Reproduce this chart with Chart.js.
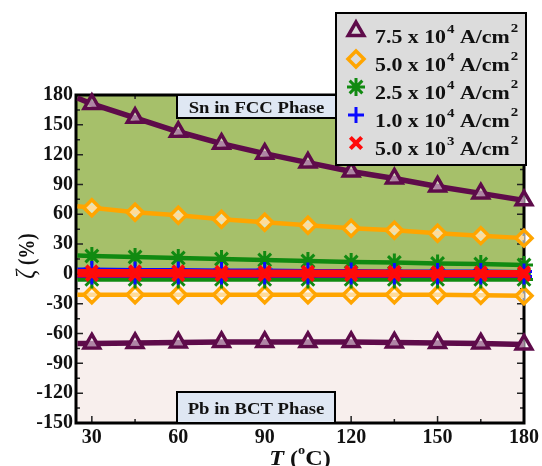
<!DOCTYPE html>
<html>
<head>
<meta charset="utf-8">
<script src="https://cdn.jsdelivr.net/npm/chart.js@4.4.1/dist/chart.umd.min.js"></script>
<style>
  body { margin: 0; background: #fff; }
  #wrap { width: 542px; height: 466px; }
</style>
</head>
<body>
<div id="wrap"><canvas id="myChart" width="542" height="466"></canvas></div>
<script>
// temperatures (°C); the first point only carries the line to the left frame
const temps = [25, 30, 45, 60, 75, 90, 105, 120, 135, 150, 165, 180];

// zeta (%) upper branch = Sn in FCC, lower branch = Pb in BCT
const sn75 = [177, 171, 157, 143, 131, 121, 112, 103, 96, 88, 81, 74];
const pb75 = [-70, -70, -69.5, -69, -68.5, -68.5, -68.5, -68.5, -69, -69.5, -70, -71];
const sn50 = [68, 66.5, 62, 59, 55, 52, 49, 46, 44, 41, 38.5, 36];
const pb50 = [-21, -21, -21, -21, -21, -21, -21, -21, -21, -21, -21.5, -22];
const sn25 = [18.5, 18, 17, 16, 15, 14, 13, 12, 11.5, 10.5, 10, 9];
const pb25 = [-5.5, -5.5, -5.5, -5.5, -5.5, -5.5, -5.5, -5.5, -5.5, -5.5, -5.5, -5.5];
const sn10 = [5, 5, 4.5, 4.5, 4, 4, 3.5, 3.5, 3, 3, 3, 2.5];
const pb10 = [-2.5, -2.5, -2.5, -2.5, -2.5, -2.5, -2.5, -2.5, -2.5, -2.5, -2.5, -2.5];
const sn05 = [2.5, 2.5, 2.5, 2.5, 2, 2, 2, 2, 2, 1.5, 1.5, 1.5];
const pb05 = [-1, -1, -1, -1, -1, -1, -1, -1, -1, -1, -1, -1];

const legendBase = ['7.5 x 10', '5.0 x 10', '2.5 x 10', '1.0 x 10', '5.0 x 10'];
const legendExp = ['4', '4', '4', '4', '3'];
const xTicks = [30, 60, 90, 120, 150, 180];
const yTicks = [-150, -120, -90, -60, -30, 0, 30, 60, 90, 120, 150, 180];
const phaseSplit = -6;

const styles = [
    { color: '#5e0b4a', point: 'triangle', r: 9, bw: 3.5, lw: 5.5, fill: 'rgba(255,255,255,0.5)' },
    { color: '#ffa500', point: 'rectRot', r: 8, bw: 3.5, lw: 4.5, fill: 'rgba(255,255,255,0.6)' },
    { color: '#118a11', point: 'star', r: 9, bw: 3, lw: 4.5, fill: '#118a11' },
    { color: '#0a0aff', point: 'cross', r: 8, bw: 3, lw: 3, fill: '#0a0aff' },
    { color: '#ff0a0a', point: 'crossRot', r: 8, bw: 4, lw: 5, fill: '#ff0a0a' }
];

function series(values, s, order) {
    return {
        data: values.map((v, i) => ({ x: temps[i], y: v })),
        borderColor: s.color,
        backgroundColor: s.fill,
        pointBackgroundColor: s.fill,
        pointBorderColor: s.color,
        pointStyle: s.point,
        pointRadius: ctx => ctx.dataIndex === 0 ? 0 : s.r,
        pointBorderWidth: s.bw,
        borderWidth: s.lw,
        tension: 0,
        clip: false,
        order: order
    };
}

function stretchText(ctx, txt, x, y, sx) {
    ctx.save();
    ctx.translate(x, y);
    ctx.scale(sx, 1);
    ctx.fillText(txt, 0, 0);
    ctx.restore();
    return ctx.measureText(txt).width * sx;
}

const serif = '"Liberation Serif", "Times New Roman", serif';

const decorations = {
    id: 'decorations',
    beforeDatasetsDraw(chart) {
        const ctx = chart.ctx, a = chart.chartArea, xs = chart.scales.x, ys = chart.scales.y;
        const split = ys.getPixelForValue(phaseSplit);
        ctx.save();
        ctx.fillStyle = '#a6c06a';
        ctx.fillRect(a.left, a.top, a.width, split - a.top);
        ctx.fillStyle = '#f8efed';
        ctx.fillRect(a.left, split, a.width, a.bottom - split);

        // inward ticks on all four sides
        ctx.strokeStyle = '#222';
        ctx.lineWidth = 1.5;
        ctx.beginPath();
        for (let i = 0; i < yTicks.length; i++) {
            const vals = [yTicks[i]];
            if (i < yTicks.length - 1) vals.push((yTicks[i] + yTicks[i + 1]) / 2);
            vals.forEach((v, k) => {
                const py = ys.getPixelForValue(v), len = k === 0 ? 7 : 4;
                ctx.moveTo(a.left, py); ctx.lineTo(a.left + len, py);
                ctx.moveTo(a.right, py); ctx.lineTo(a.right - len, py);
            });
        }
        for (let i = 0; i < xTicks.length; i++) {
            const vals = [xTicks[i], xTicks[i] - 15];
            vals.forEach((v, k) => {
                const px = xs.getPixelForValue(v), len = k === 0 ? 7 : 4;
                ctx.moveTo(px, a.bottom); ctx.lineTo(px, a.bottom - len);
                ctx.moveTo(px, a.top); ctx.lineTo(px, a.top + len);
            });
        }
        ctx.stroke();

        ctx.strokeStyle = '#000';
        ctx.lineWidth = 3;
        ctx.strokeRect(a.left, a.top, a.width, a.height);
        ctx.restore();
    },
    afterDatasetsDraw(chart) {
        const ctx = chart.ctx, a = chart.chartArea;
        ctx.save();

        // phase labels
        const boxes = [
            { text: 'Sn in FCC Phase', x: 177, y: a.top, w: 159, h: 23 },
            { text: 'Pb in BCT Phase', x: 177, y: 392, w: 158, h: a.bottom - 392 }
        ];
        boxes.forEach(b => {
            ctx.fillStyle = '#dfe7f3';
            ctx.fillRect(b.x, b.y, b.w, b.h);
            ctx.strokeStyle = '#000';
            ctx.lineWidth = 2;
            ctx.strokeRect(b.x, b.y, b.w, b.h);
            ctx.fillStyle = '#111';
            ctx.font = 'bold 17px ' + serif;
            ctx.textAlign = 'center';
            ctx.textBaseline = 'alphabetic';
            stretchText(ctx, b.text, b.x + b.w / 2, b.y + b.h / 2 + 6, 1.1);
        });

        // legend
        ctx.fillStyle = '#dcdcdc';
        ctx.fillRect(336, 13, 190, 152);
        ctx.strokeStyle = '#000';
        ctx.lineWidth = 2;
        ctx.strokeRect(336, 13, 190, 152);
        ctx.textAlign = 'left';
        for (let i = 0; i < legendBase.length; i++) {
            const s = styles[i];
            const cy = 31 + 28 * i;
            ctx.fillStyle = s.point === 'triangle' || s.point === 'rectRot' ? '#dcdcdc' : s.color;
            ctx.strokeStyle = s.color;
            ctx.lineWidth = s.bw;
            Chart.helpers.drawPoint(ctx, { pointStyle: s.point, radius: s.r, borderWidth: s.bw, rotation: 0 }, 356, cy);
            ctx.fillStyle = '#111';
            const base = cy + 12;
            let x = 375;
            ctx.font = 'bold 19px ' + serif;
            x += stretchText(ctx, legendBase[i], x, base, 1.15);
            ctx.font = 'bold 13px ' + serif;
            x += stretchText(ctx, legendExp[i], x + 1, base - 10, 1.15) + 1;
            ctx.font = 'bold 19px ' + serif;
            x += stretchText(ctx, ' A/cm', x, base, 1.15);
            ctx.font = 'bold 13px ' + serif;
            stretchText(ctx, '2', x + 1, base - 11, 1.15);
        }

        // x axis title: T (°C)
        ctx.fillStyle = '#111';
        const parts = [
            { t: 'T', f: 'italic bold 22px ' + serif, dy: 0 },
            { t: ' (', f: 'bold 22px ' + serif, dy: 0 },
            { t: 'o', f: 'bold 13px ' + serif, dy: -11 },
            { t: 'C)', f: 'bold 22px ' + serif, dy: 0 }
        ];
        let total = 0;
        parts.forEach(p => { ctx.font = p.f; total += ctx.measureText(p.t).width * 1.1; });
        let px = (a.left + a.right) / 2 - total / 2;
        parts.forEach(p => { ctx.font = p.f; px += stretchText(ctx, p.t, px, 465 + p.dy, 1.1); });

        // y axis title: zeta (%)
        ctx.save();
        ctx.translate(34, 256);
        ctx.rotate(-Math.PI / 2);
        ctx.scale(1, 1.2);
        ctx.font = 'italic 22px ' + serif;
        const zw = ctx.measureText('ζ').width;
        ctx.font = 'bold 19px ' + serif;
        const pw = ctx.measureText(' (%)').width;
        let ty = -(zw + pw) / 2;
        ctx.font = 'italic 22px ' + serif;
        ctx.fillText('ζ', ty, 0);
        ctx.font = 'bold 19px ' + serif;
        ctx.fillText(' (%)', ty + zw, 0);
        ctx.restore();

        ctx.restore();
    }
};

const ctx = document.getElementById('myChart');

new Chart(ctx, {
    type: 'line',
    data: {
        datasets: [
            series(sn75, styles[0], 5), series(pb75, styles[0], 5),
            series(sn50, styles[1], 4), series(pb50, styles[1], 4),
            series(sn25, styles[2], 3), series(pb25, styles[2], 3),
            series(sn10, styles[3], 2), series(pb10, styles[3], 2),
            series(sn05, styles[4], 1), series(pb05, styles[4], 1)
        ]
    },
    options: {
        responsive: false,
        animation: false,
        events: [],
        layout: { padding: { top: 95, right: 17, bottom: 0, left: 0 } },
        scales: {
            x: {
                type: 'linear',
                min: 24.5,
                max: 180,
                afterFit: scale => { scale.height = 43; },
                afterBuildTicks: scale => { scale.ticks = xTicks.map(v => ({ value: v })); },
                ticks: {
                    color: '#111',
                    padding: 3,
                    maxRotation: 0,
                    font: { family: serif, size: 20, weight: 'bold' }
                },
                grid: { display: false, drawTicks: false },
                border: { display: false }
            },
            y: {
                min: -150,
                max: 180,
                afterFit: scale => { scale.width = 76; },
                afterBuildTicks: scale => { scale.ticks = yTicks.map(v => ({ value: v })); },
                ticks: {
                    color: '#111',
                    padding: 3,
                    font: { family: serif, size: 20, weight: 'bold' }
                },
                grid: { display: false, drawTicks: false },
                border: { display: false }
            }
        },
        plugins: {
            legend: { display: false },
            tooltip: { enabled: false }
        }
    },
    plugins: [decorations]
});
</script>
</body>
</html>
